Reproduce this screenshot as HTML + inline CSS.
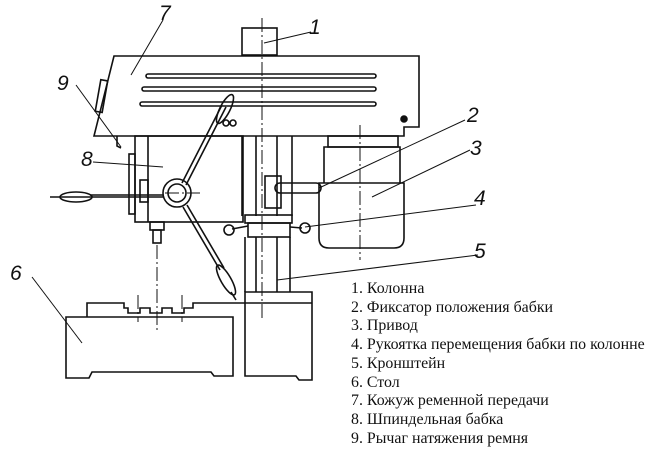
<!DOCTYPE html>
<html><head><meta charset="utf-8"><style>
html,body{margin:0;padding:0;background:#fff;}
svg{display:block}
.t{font-family:"Liberation Serif",serif;font-size:15.9px;fill:#111}
.n{font-family:"Liberation Sans",sans-serif;font-style:italic;font-size:21px;fill:#111}
</style></head><body>
<svg width="660" height="457" viewBox="0 0 660 457" xmlns="http://www.w3.org/2000/svg">
<g fill="none" stroke="#111" stroke-width="1.6">
<rect x="242" y="28" width="35" height="27"/>
<path d="M114 56 L419 56 L419 127 L404 127 L404 134 L404 136 L94 136 Z"/>
<rect x="146" y="74" width="230" height="4" rx="2"/>
<rect x="142" y="87" width="234" height="4" rx="2"/>
<rect x="140" y="102" width="236" height="4" rx="2"/>
<rect x="98" y="80" width="7" height="32" transform="rotate(10 101 96)"/>
<path d="M117 136 L117 146 L121 148"/>
<rect x="135" y="136" width="108" height="86"/>
<rect x="129" y="154" width="6" height="60"/>
<line x1="148" y1="136" x2="148" y2="222"/>
<rect x="140" y="180" width="8" height="22"/>
<rect x="150" y="222" width="14" height="8"/>
<rect x="153" y="230" width="8" height="13"/>
<line x1="242" y1="136" x2="242" y2="216"/><line x1="292" y1="136" x2="292" y2="216"/>
<line x1="256" y1="136" x2="256" y2="216"/><line x1="277" y1="136" x2="277" y2="216"/>
<rect x="265" y="176" width="16" height="32"/>
<rect x="245" y="215" width="47" height="8"/><rect x="248" y="223" width="42" height="14"/>
<line x1="245" y1="237" x2="245" y2="292"/><line x1="290" y1="237" x2="290" y2="292"/>
<line x1="256" y1="237" x2="256" y2="292"/><line x1="277" y1="237" x2="277" y2="292"/>
<path d="M245 292 L312 292 L312 380 L299 380 L296 376 L245 376 Z"/>
<line x1="245" y1="303" x2="312" y2="303"/>
<path d="M66 317 L233 317 L233 376 L214 376 L211 372 L92 372 L89 378 L66 378 Z"/>
<path d="M87 317 L87 303 L124 303 L124 308 L128 308 L128 313 L140 313 L140 308 L150 308 L150 313 L162 313 L162 308 L172 308 L172 313 L184 313 L184 308 L193 308 L193 303 L245 303"/>
<rect x="328" y="136" width="70" height="11"/>
<path d="M324 183 L324 147 L400 147 L400 183"/>
<path d="M319 183 L404 183 L404 238 Q404 248 394 248 L329 248 Q319 248 319 238 Z"/>
<circle cx="177" cy="193" r="14"/><circle cx="177" cy="193" r="9"/>
<line x1="50" y1="197" x2="163" y2="197"/><line x1="90" y1="195" x2="163" y2="195"/>
<ellipse cx="76" cy="197" rx="16" ry="5"/>
<line x1="182" y1="183" x2="222" y2="105"/><line x1="186" y1="185" x2="226" y2="107"/>
<ellipse cx="225" cy="109" rx="5" ry="16" transform="rotate(27 225 109)"/>
<line x1="183" y1="207" x2="220" y2="270"/><line x1="187" y1="205" x2="224" y2="268"/>
<ellipse cx="226" cy="280" rx="5" ry="17" transform="rotate(-30 226 280)"/>
<line x1="231" y1="292" x2="236" y2="300"/>
<rect x="275" y="183" width="46" height="10" rx="5"/>
<circle cx="229" cy="230" r="5"/><line x1="232" y1="229" x2="248" y2="226"/>
<circle cx="305" cy="228" r="5"/><line x1="290" y1="227" x2="302" y2="228"/>
<circle cx="226" cy="123" r="3"/><circle cx="233" cy="123" r="3"/>
<circle cx="404" cy="119" r="3" fill="#111"/>
</g>
<g fill="none" stroke="#111" stroke-width="1" stroke-dasharray="14 3 2 3">
<line x1="262" y1="18" x2="262" y2="320"/>
<line x1="157" y1="245" x2="157" y2="330"/>
<line x1="360" y1="125" x2="360" y2="260"/>
<line x1="165" y1="193" x2="200" y2="193"/>
<line x1="138" y1="295" x2="138" y2="322"/><line x1="182" y1="295" x2="182" y2="322"/>
</g>
<g stroke="#111" stroke-width="1">
<line x1="163" y1="20" x2="131" y2="75"/>
<line x1="311" y1="32" x2="264" y2="43"/>
<line x1="76" y1="85" x2="121" y2="147"/>
<line x1="93" y1="162" x2="163" y2="167"/>
<line x1="465" y1="120" x2="319" y2="188"/>
<line x1="470" y1="150" x2="372" y2="197"/>
<line x1="476" y1="205" x2="305" y2="227"/>
<line x1="478" y1="255" x2="277" y2="280"/>
<line x1="32" y1="277" x2="82" y2="343"/>
</g>
<text class="n" x="159" y="20">7</text>
<text class="n" x="309" y="34">1</text>
<text class="n" x="57" y="90">9</text>
<text class="n" x="81" y="166">8</text>
<text class="n" x="467" y="122">2</text>
<text class="n" x="470" y="155">3</text>
<text class="n" x="474" y="205">4</text>
<text class="n" x="474" y="258">5</text>
<text class="n" x="10" y="280">6</text>
<text class="t" x="351" y="293">1. Колонна</text>
<text class="t" x="351" y="312">2. Фиксатор положения бабки</text>
<text class="t" x="351" y="330">3. Привод</text>
<text class="t" x="351" y="349">4. Рукоятка перемещения бабки по колонне</text>
<text class="t" x="351" y="368">5. Кронштейн</text>
<text class="t" x="351" y="387">6. Стол</text>
<text class="t" x="351" y="405">7. Кожуж ременной передачи</text>
<text class="t" x="351" y="424">8. Шпиндельная бабка</text>
<text class="t" x="351" y="443">9. Рычаг натяжения ремня</text>
</svg>
</body></html>
